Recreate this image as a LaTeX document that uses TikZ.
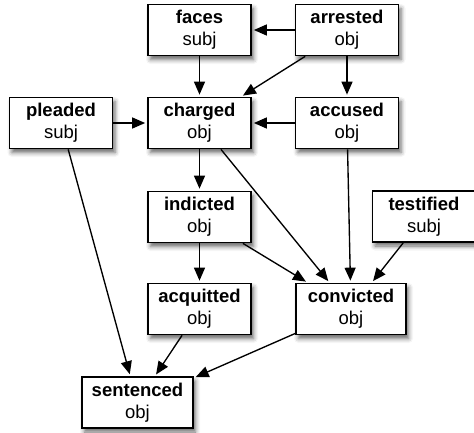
\documentclass[tikz,border=0pt]{standalone}
\usepackage{fontspec}
\setmainfont{Liberation Sans}
\usetikzlibrary{arrows.meta,shadows.blur}
\tikzset{
  vbox/.style={draw=black, line width=1.7pt, fill=white, align=center,
    minimum width=103pt, minimum height=51pt, inner sep=0pt,
    font=\fontsize{18.5}{22}\selectfont,
    blur shadow={shadow xshift=2.5pt, shadow yshift=-4pt, shadow blur radius=4.5pt, shadow opacity=60}},
  link/.style={line width=1.35pt, -{Triangle[length=13pt,width=11pt]}, shorten >=2pt}
}
\begin{document}
\begin{tikzpicture}[x=1pt,y=-1pt]
\useasboundingbox (0,0) rectangle (474,432);
\node[vbox] (faces) at (199.5,30) {\textbf{faces}\\subj};
\node[vbox] (arrested) at (347,30) {\textbf{arrested}\\obj};
\node[vbox] (pleaded) at (61,123) {\textbf{pleaded}\\subj};
\node[vbox] (charged) at (199.5,123) {\textbf{charged}\\obj};
\node[vbox] (accused) at (347,123) {\textbf{accused}\\obj};
\node[vbox] (indicted) at (199.5,217) {\textbf{indicted}\\obj};
\node[vbox] (testified) at (424,216.5) {\textbf{testified}\\subj};
\node[vbox] (acquitted) at (199.5,309) {\textbf{acquitted}\\obj};
\node[vbox, minimum width=110pt] (convicted) at (351,309) {\textbf{convicted}\\obj};
\node[vbox, minimum width=111pt] (sentenced) at (137.5,402.5) {\textbf{sentenced}\\obj};
\draw[link] (arrested) -- (faces);
\draw[link] (faces) -- (charged);
\draw[link] (arrested) -- (charged);
\draw[link] (arrested) -- (accused);
\draw[link] (pleaded) -- (charged);
\draw[link] (accused) -- (charged);
\draw[link] (charged) -- (indicted);
\draw[link] (charged) -- (convicted);
\draw[link] (accused) -- (convicted);
\draw[link] (testified) -- (convicted);
\draw[link] (indicted) -- (convicted);
\draw[link] (indicted) -- (acquitted);
\draw[link] (pleaded) -- (sentenced);
\draw[link] (acquitted) -- (sentenced);
\draw[link] (convicted) -- (sentenced);
\end{tikzpicture}
\end{document}
